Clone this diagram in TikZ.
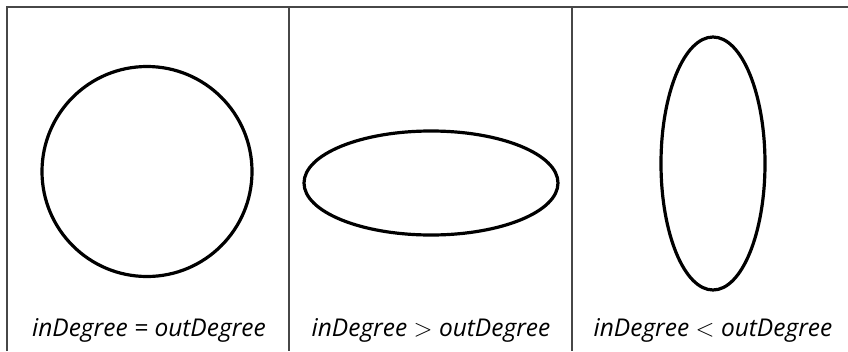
\documentclass[tikz,border=0pt]{standalone}
\usepackage{fontspec}
\setmainfont{Open Sans}
\begin{document}
\begin{tikzpicture}[x=1pt,y=-1pt,
  frame/.style={draw=black!72,line width=1.6pt},
  outline/.style={draw=black,line width=3.2pt},
  lbl/.style={font=\fontsize{24.5}{29}\selectfont\itshape,anchor=base}]
\useasboundingbox (0,0) rectangle (848,351);
\coordinate (tl) at (7,7);
\coordinate (tr) at (848,7);
\coordinate (bl) at (7,351);
\coordinate (m1t) at (289,7);
\coordinate (m1b) at (289,351);
\coordinate (m2t) at (572,7);
\coordinate (m2b) at (572,351);
\draw[frame] (bl) -- (tl) -- (tr);
\draw[frame] (m1t) -- (m1b);
\draw[frame] (m2t) -- (m2b);
\node[outline,circle,minimum size=210pt,inner sep=0pt] (c1) at (147,171.5) {};
\draw[outline] (431,183) ellipse [x radius=127, y radius=52];
\draw[outline] (713,163.5) ellipse [x radius=52, y radius=126.5];
\node[lbl] (t1) at (149,336) {inDegree = outDegree};
\node[lbl] (t2) at (431,336) {inDegree \(>\) outDegree};
\node[lbl] (t3) at (713,336) {inDegree \(<\) outDegree};
\end{tikzpicture}
\end{document}
